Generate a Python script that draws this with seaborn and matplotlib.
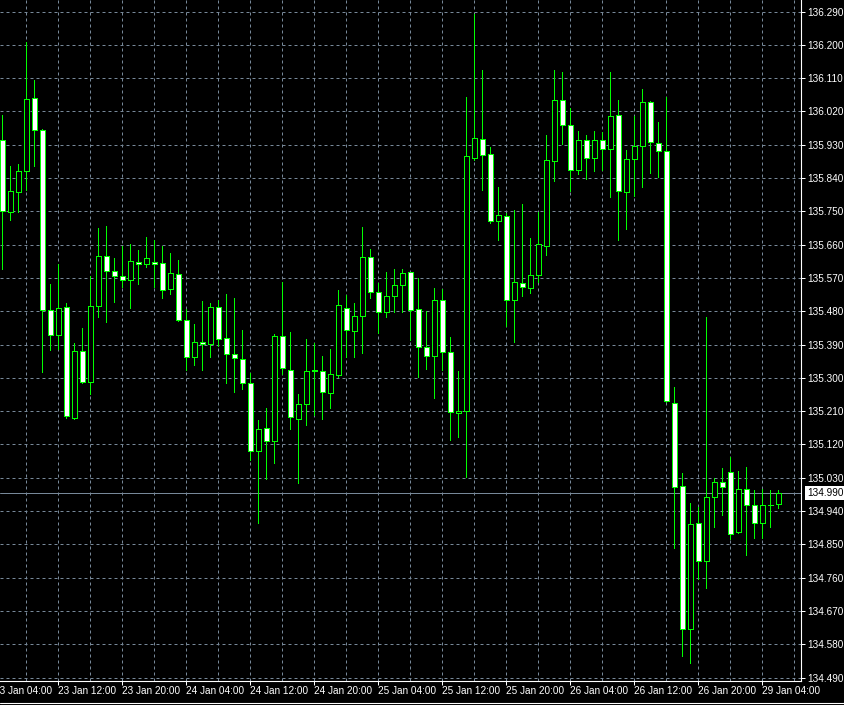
import numpy as np
import pandas as pd
import matplotlib
matplotlib.use('Agg')
import matplotlib.pyplot as plt
import seaborn as sns

# Bougies H1 (ouverture, plus haut, plus bas, clôture)
opens = [135.942, 135.747, 135.801, 135.858, 136.055, 135.969, 135.483, 135.415, 135.491, 135.192,
         135.372, 135.290, 135.495, 135.628, 135.588, 135.574, 135.564, 135.612, 135.607, 135.612,
         135.610, 135.539, 135.580, 135.455, 135.355, 135.396, 135.391, 135.491, 135.407, 135.364,
         135.350, 135.285, 135.101, 135.164, 135.128, 135.412, 135.320, 135.190, 135.228, 135.320,
         135.318, 135.258, 135.307, 135.488, 135.426, 135.466, 135.626, 135.531, 135.477, 135.520,
         135.550, 135.585, 135.485, 135.383, 135.358, 135.510, 135.369, 135.204, 135.210, 135.893,
         135.945, 135.904, 135.723, 135.736, 135.510, 135.555, 135.544, 135.577, 135.655, 135.885,
         136.050, 135.983, 135.861, 135.942, 135.893, 135.942, 135.918, 136.010, 135.801, 135.891,
         135.926, 136.045, 135.934, 135.912, 135.231, 135.007, 134.620, 134.907, 134.804, 134.977,
         135.018, 135.045, 134.883, 134.999, 134.955, 134.907, 134.955, 134.958]
highs = [136.010, 135.872, 135.878, 136.207, 136.105, 135.972, 135.554, 135.608, 135.502, 135.393,
         135.435, 135.575, 135.705, 135.710, 135.624, 135.656, 135.661, 135.645, 135.681, 135.672,
         135.656, 135.637, 135.618, 135.485, 135.445, 135.508, 135.501, 135.510, 135.526, 135.515,
         135.428, 135.312, 135.186, 135.218, 135.418, 135.559, 135.424, 135.256, 135.405, 135.393,
         135.359, 135.378, 135.537, 135.524, 135.502, 135.708, 135.647, 135.555, 135.585, 135.593,
         135.593, 135.585, 135.569, 135.480, 135.542, 135.539, 135.410, 135.318, 136.059, 136.283,
         136.132, 135.923, 135.816, 135.745, 135.753, 135.769, 135.677, 135.747, 135.956, 136.132,
         136.127, 136.028, 135.966, 135.955, 135.966, 135.964, 136.126, 136.050, 135.915, 136.007,
         136.080, 136.048, 135.991, 136.058, 135.274, 135.042, 134.961, 134.952, 135.464, 135.028,
         135.055, 135.085, 135.047, 135.058, 134.996, 135.000, 134.996, 134.996]
lows = [135.594, 135.726, 135.747, 135.808, 135.873, 135.317, 135.376, 135.377, 135.192, 135.190,
        135.287, 135.256, 135.465, 135.452, 135.506, 135.545, 135.490, 135.554, 135.599, 135.545,
        135.515, 135.526, 135.453, 135.320, 135.334, 135.320, 135.355, 135.385, 135.287, 135.263,
        135.271, 135.077, 134.908, 135.027, 135.071, 135.310, 135.163, 135.017, 135.173, 135.200,
        135.190, 135.219, 135.303, 135.355, 135.355, 135.366, 135.515, 135.420, 135.464, 135.477,
        135.477, 135.401, 135.301, 135.323, 135.245, 135.320, 135.131, 135.141, 135.031, 135.888,
        135.808, 135.718, 135.672, 135.440, 135.398, 135.522, 135.528, 135.558, 135.631, 135.831,
        135.931, 135.804, 135.852, 135.837, 135.858, 135.861, 135.788, 135.672, 135.701, 135.791,
        135.817, 135.854, 135.842, 135.235, 134.839, 134.549, 134.530, 134.755, 134.731, 134.898,
        134.928, 134.864, 134.881, 134.820, 134.866, 134.866, 134.896, 134.947]
closes = [135.750, 135.804, 135.858, 136.053, 135.969, 135.483, 135.415, 135.488, 135.196, 135.372,
          135.290, 135.493, 135.628, 135.588, 135.574, 135.564, 135.615, 135.607, 135.623, 135.607,
          135.537, 135.583, 135.455, 135.355, 135.396, 135.391, 135.491, 135.404, 135.364, 135.353,
          135.285, 135.101, 135.161, 135.128, 135.412, 135.326, 135.193, 135.228, 135.318, 135.318,
          135.261, 135.310, 135.496, 135.428, 135.466, 135.626, 135.531, 135.477, 135.520, 135.550,
          135.583, 135.483, 135.383, 135.358, 135.510, 135.369, 135.207, 135.210, 135.899, 135.947,
          135.901, 135.723, 135.739, 135.510, 135.558, 135.545, 135.577, 135.661, 135.888, 136.050,
          135.983, 135.861, 135.942, 135.893, 135.942, 135.918, 136.007, 135.804, 135.891, 135.926,
          136.045, 135.937, 135.912, 135.237, 135.004, 134.620, 134.904, 134.804, 134.977, 135.018,
          135.004, 134.877, 134.999, 134.955, 134.907, 134.955, 134.956, 134.990]

# Heures des bougies (pas de cotation le week-end)
heures = list(pd.date_range('2018-01-23 05:00', '2018-01-26 23:00', freq='h')) + \
         list(pd.date_range('2018-01-29 00:00', '2018-01-29 06:00', freq='h'))
premiere_etiquette = '23 Jan 04:00'

graduations_prix = [134.490, 134.580, 134.670, 134.760, 134.850, 134.940, 135.030,
                    135.120, 135.210, 135.300, 135.390, 135.480, 135.570, 135.660,
                    135.750, 135.840, 135.930, 136.020, 136.110, 136.200, 136.290]
prix_courant = 134.990

VERT = '#00ff00'
GRILLE = '#778899'
TAILLE_TEXTE = 7.2

sns.set_theme(style='dark', rc={
    'axes.facecolor': 'black',
    'figure.facecolor': 'black',
    'axes.edgecolor': 'white',
    'xtick.color': 'white',
    'ytick.color': 'white',
    'text.color': 'white',
})
plt.rcParams['font.family'] = ['Liberation Sans', 'DejaVu Sans']

df = pd.DataFrame({'open': opens, 'high': highs, 'low': lows, 'close': closes, 'heure': heures})
df['x'] = np.arange(len(df))
df['hausse'] = df['close'] >= df['open']
df['bas_corps'] = df[['open', 'close']].min(axis=1)
df['haut_corps'] = df[['open', 'close']].max(axis=1)
df['taille'] = (df['haut_corps'] - df['bas_corps']).clip(lower=0.0008)

W, H = 844, 705
fig = plt.figure(figsize=(W / 100, H / 100), dpi=100)
ax = fig.add_axes([0, 24 / H, 801 / W, 681 / H])

# Mèches puis corps
ax.vlines(df['x'], df['low'], df['high'], color=VERT, linewidth=0.72, zorder=3, antialiased=False)
ax.bar(df['x'], df['taille'], bottom=df['bas_corps'], width=0.56,
       color=np.where(df['hausse'], 'black', 'white'), edgecolor=VERT, linewidth=0.72,
       zorder=4, antialiased=False)

# Ligne du prix courant
ax.axhline(prix_courant, color=GRILLE, linewidth=0.72, zorder=2)
ax.annotate(f'{prix_courant:.3f}', xy=(1, prix_courant), xycoords=('axes fraction', 'data'),
            xytext=(4.2, 0), textcoords='offset points', ha='left', va='center',
            color='black', fontsize=TAILLE_TEXTE, annotation_clip=False,
            bbox=dict(boxstyle='square,pad=0.2', fc='white', ec='none'))

# Axe des prix à droite
ax.set_ylim(134.4806, 136.3211)
ax.yaxis.tick_right()
ax.set_yticks(graduations_prix)
ax.set_yticklabels([f'{p:.3f}' for p in graduations_prix])

# Axe du temps : étiquettes toutes les 8 h, grille toutes les 4 h
ax.set_xlim(-0.29, 99.84)
majeur = df[df['heure'].dt.hour.isin([4, 12, 20])]
mineur = df[df['heure'].dt.hour.isin([0, 8, 16])]
ax.set_xticks(majeur['x'])
ax.set_xticklabels(majeur['heure'].dt.strftime('%d %b %H:%M'))
ax.set_xticks(list(mineur['x']) + [99], minor=True)
for lbl in ax.get_xticklabels():
    lbl.set_ha('left')
ax.annotate(premiere_etiquette, xy=(-1, 0), xycoords=('data', 'axes fraction'),
            xytext=(-0.5, -3.5), textcoords='offset points', ha='left', va='top',
            fontsize=TAILLE_TEXTE, color='white', annotation_clip=False)

ax.tick_params(axis='x', which='major', direction='out', length=3, width=0.72, pad=0.5,
               labelsize=TAILLE_TEXTE, bottom=True)
ax.tick_params(axis='x', which='minor', length=0)
ax.tick_params(axis='y', direction='out', length=3, width=0.72, pad=1.5,
               labelsize=TAILLE_TEXTE, right=True)

ax.grid(True, which='both', color=GRILLE, linestyle=(0, (3, 3)), linewidth=0.72, zorder=0)
ax.set_axisbelow(True)

for cote in ['left', 'top']:
    ax.spines[cote].set_visible(False)
for cote in ['right', 'bottom']:
    ax.spines[cote].set_color('white')
    ax.spines[cote].set_linewidth(0.8)

# Bordure basse de la fenêtre
fig.add_artist(plt.Line2D([0, 1], [2.5 / H, 2.5 / H], color='white', linewidth=0.8,
                          transform=fig.transFigure))

fig.savefig('out.png', dpi=100, facecolor='black')
